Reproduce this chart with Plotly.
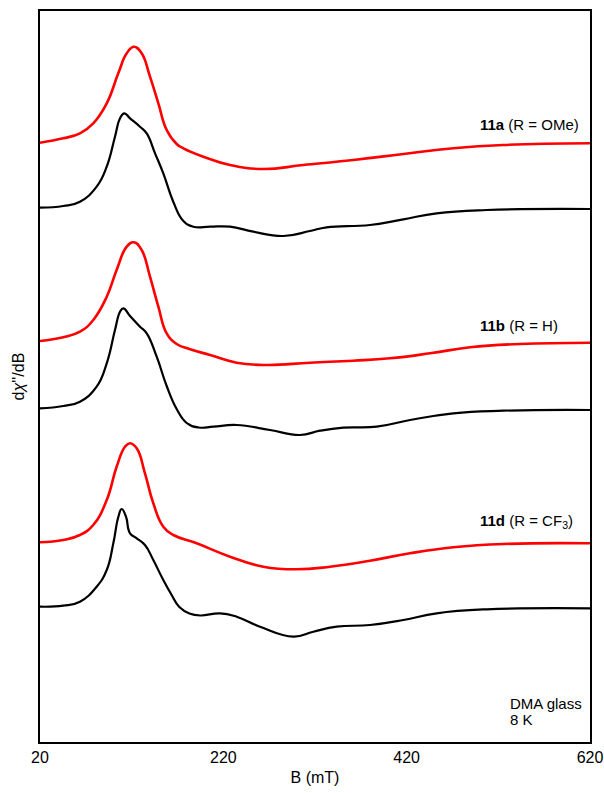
import plotly.graph_objects as go

# Field axis (mT) and stacked spectra (arbitrary units, offset for display)
b_11a_red = [20, 45.4, 63.6, 78.1, 92.8, 105.4, 114.6, 122.5, 130.9, 140, 149.1, 158.2, 169.1, 176.4, 198.2, 227.3, 263.6, 307.3, 361.8, 416.4, 470.9, 525.5, 620]
y_11a_red = [599.3, 603.7, 608.7, 618.7, 638.7, 668.7, 688.7, 695.3, 688.7, 665.3, 638.7, 612, 598, 593.7, 585.3, 577, 573, 577, 582, 588, 593.7, 597, 598.7]

b_11a_blk = [20, 45.4, 63.6, 81.8, 92.8, 101.8, 107.3, 112.0, 118.2, 129.1, 136.4, 145.5, 154.5, 165.5, 176.4, 187.3, 205.5, 227.3, 252.7, 285.5, 314.5, 332.7, 380, 416.4, 452.7, 507.3, 620]
y_11a_blk = [534.3, 536, 540.3, 555.3, 575.3, 605.3, 623.7, 628.7, 623.7, 615.3, 608.7, 588.7, 568.7, 540, 521, 515.3, 515.3, 515.3, 510.3, 506, 511, 514.7, 517, 522.7, 528.7, 532, 533]

b_11b_red = [20, 45.4, 63.6, 78.1, 92.8, 103.6, 114.6, 122.5, 130.9, 140, 149.1, 158.2, 169.1, 183, 205.5, 234.5, 267.3, 314.5, 361.8, 401.8, 445.5, 489.1, 543.6, 620]
y_11b_red = [401, 404.7, 410.3, 422, 445.3, 472, 495.3, 499.7, 492, 465.3, 435.3, 408.7, 398, 393, 387, 379.3, 377, 379.3, 381.3, 383.7, 388.7, 394.7, 398, 399.3]

b_11b_blk = [20, 45.4, 63.6, 81.8, 92.8, 101.8, 107.3, 110.9, 118.2, 129.1, 136.4, 147.3, 158.2, 169.1, 180, 193, 209.1, 234.5, 270.9, 303.6, 325.5, 350.9, 387.3, 423.6, 470.9, 525.5, 620]
y_11b_blk = [333.7, 336, 340.3, 355.3, 378.7, 412, 430.3, 433.7, 426, 415.3, 408.7, 385.3, 356, 333, 319, 314.5, 315.3, 317, 312, 307, 311.3, 314.3, 315.3, 322, 328.7, 331.3, 332]

b_11d_red = [20, 45.4, 63.6, 78.1, 92.8, 103.6, 112.7, 118.2, 125.5, 134.5, 143.6, 154.5, 165.5, 190.9, 227.3, 263.6, 300, 336.4, 380, 423.6, 470.9, 525.5, 620]
y_11d_red = [199.7, 202, 207, 217, 242, 275.3, 295.3, 298.7, 293.7, 268.7, 238.7, 215.3, 207, 198.7, 185.3, 175.3, 172.7, 175.3, 181.3, 188.7, 194.7, 198, 198.7]

b_11d_blk = [20, 45.4, 63.6, 81.8, 92.8, 100, 105.5, 109.1, 113.8, 118.2, 125.5, 134.5, 143.6, 154.5, 163, 172, 183, 195, 216.4, 234.5, 260, 296.4, 318.2, 343.6, 380, 416.4, 452.7, 507.3, 620]
y_11d_blk = [135.3, 136.3, 140.3, 155.3, 172, 198.7, 225.3, 233, 225.3, 208.7, 203.7, 197, 182, 162, 148, 135, 128.5, 126.5, 128.7, 125.3, 115.3, 105.3, 110.3, 115.3, 117, 122, 128.7, 132.7, 133.7]

x_ticks = [20, 220, 420, 620]

RED = "#ff0000"
BLACK = "#000000"
FONT = "Liberation Sans, Arial, sans-serif"

fig = go.Figure()
series = [
    (b_11a_red, y_11a_red, RED, 2.6),
    (b_11a_blk, y_11a_blk, BLACK, 2.2),
    (b_11b_red, y_11b_red, RED, 2.6),
    (b_11b_blk, y_11b_blk, BLACK, 2.2),
    (b_11d_red, y_11d_red, RED, 2.6),
    (b_11d_blk, y_11d_blk, BLACK, 2.2),
]
for bx, yy, col, w in series:
    fig.add_trace(go.Scatter(x=bx, y=yy, mode="lines",
                             line=dict(color=col, width=w, shape="spline", smoothing=1.3),
                             showlegend=False, hoverinfo="skip"))

L, R, T, B = 40, 14, 11, 51
W, H = 604, 793
pw, ph = W - L - R, H - T - B

def px(xp):
    return (xp - L) / pw

def py(yp):
    return (H - B - yp) / ph

ann = [
    ("<b>11a</b> (R = OMe)", 478, 125),
    ("<b>11b</b> (R = H)", 478, 325),
    ("<b>11d</b> (R = CF<sub>3</sub>)", 478, 521),
    ("DMA glass", 508, 703),
    ("8 K", 508, 719),
]
for txt, xx, yy in ann:
    fig.add_annotation(text=txt, x=px(xx), y=py(yy), xref="paper", yref="paper",
                       xanchor="left", yanchor="middle", showarrow=False,
                       font=dict(family=FONT, size=15, color="black"))

fig.update_layout(
    width=W, height=H,
    margin=dict(l=L, r=R, t=T, b=B, autoexpand=False),
    paper_bgcolor="white", plot_bgcolor="white",
    font=dict(family=FONT, size=16, color="black"),
    xaxis=dict(range=[20, 620], tickvals=x_ticks, ticktext=[str(v) for v in x_ticks],
               showgrid=False, zeroline=False, showline=True, linecolor="black",
               linewidth=2, mirror=True, ticks="", ticklen=0, automargin=False,
               title=dict(text="B (mT)", font=dict(size=16), standoff=7),
               tickfont=dict(size=16)),
    yaxis=dict(range=[0, 731], showticklabels=False, showgrid=False, zeroline=False,
               showline=True, linecolor="black", linewidth=2, mirror=True, ticks="",
               automargin=False,
               title=dict(text="d<i>χ</i>''/dB", font=dict(size=16), standoff=9)),
)

fig.write_html("out.html", config={"displayModeBar": False},
               post_script="document.body.style.margin='0';document.body.style.overflow='hidden';")
